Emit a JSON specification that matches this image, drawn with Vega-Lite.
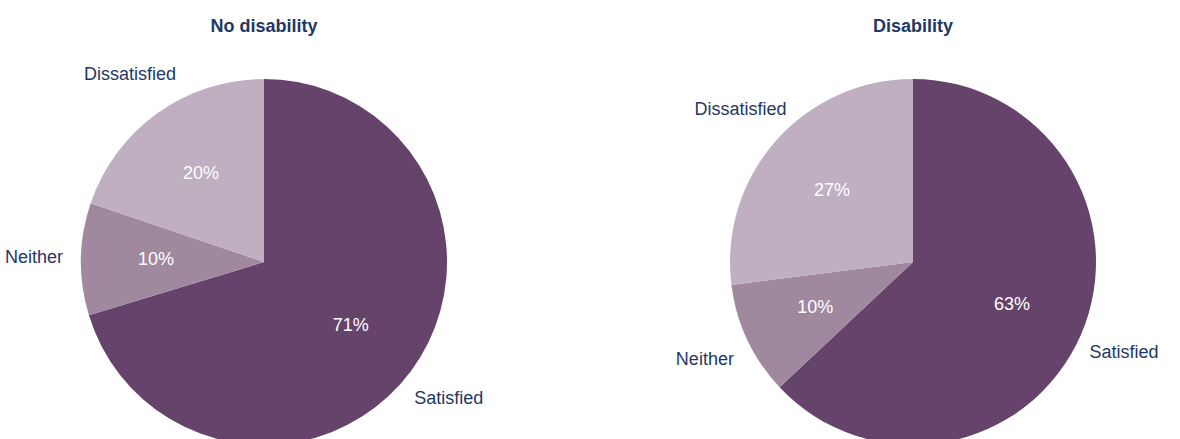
{
  "$schema": "https://vega.github.io/schema/vega-lite/v6.json",
  "padding": {"left": 0, "top": 18, "right": 0, "bottom": 0},
  "background": "white",
  "config": {
    "view": {"stroke": null},
    "font": "Liberation Sans",
    "concat": {"spacing": 121},
    "title": {"fontSize": 18, "fontWeight": "bold", "color": "#1f3864", "offset": 9, "anchor": "middle"}
  },
  "datasets": {
    "survey": [
      {"group": "No disability", "response": "Satisfied", "order": 1, "value": 71},
      {"group": "No disability", "response": "Neither", "order": 2, "value": 10},
      {"group": "No disability", "response": "Dissatisfied", "order": 3, "value": 20},
      {"group": "Disability", "response": "Satisfied", "order": 1, "value": 63},
      {"group": "Disability", "response": "Neither", "order": 2, "value": 10},
      {"group": "Disability", "response": "Dissatisfied", "order": 3, "value": 27}
    ]
  },
  "hconcat": [
    {
      "title": {"text": "No disability"},
      "width": 528,
      "height": 434,
      "data": {"name": "survey"},
      "transform": [
        {"filter": "datum.group === 'No disability'"},
        {"calculate": "datum.value + '%'", "as": "pct"}
      ],
      "encoding": {
        "theta": {"field": "value", "type": "quantitative", "stack": true},
        "order": {"field": "order", "type": "ordinal"},
        "color": {
          "field": "response", "type": "nominal",
          "scale": {"domain": ["Satisfied", "Neither", "Dissatisfied"], "range": ["#66436a", "#a0889f", "#bfafc1"]},
          "legend": null
        }
      },
      "layer": [
        {"mark": {"type": "arc", "outerRadius": 183}},
        {"mark": {"type": "text", "radius": 108, "fontSize": 18}, "encoding": {"text": {"field": "pct"}, "color": {"value": "white"}}},
        {"mark": {"type": "text", "radius": 230, "fontSize": 18}, "encoding": {"text": {"field": "response"}, "color": {"value": "#1f3864"}}}
      ]
    },
    {
      "title": {"text": "Disability"},
      "width": 528,
      "height": 434,
      "data": {"name": "survey"},
      "transform": [
        {"filter": "datum.group === 'Disability'"},
        {"calculate": "datum.value + '%'", "as": "pct"}
      ],
      "encoding": {
        "theta": {"field": "value", "type": "quantitative", "stack": true},
        "order": {"field": "order", "type": "ordinal"},
        "color": {
          "field": "response", "type": "nominal",
          "scale": {"domain": ["Satisfied", "Neither", "Dissatisfied"], "range": ["#66436a", "#a0889f", "#bfafc1"]},
          "legend": null
        }
      },
      "layer": [
        {"mark": {"type": "arc", "outerRadius": 183}},
        {"mark": {"type": "text", "radius": 108, "fontSize": 18}, "encoding": {"text": {"field": "pct"}, "color": {"value": "white"}}},
        {"mark": {"type": "text", "radius": 230, "fontSize": 18}, "encoding": {"text": {"field": "response"}, "color": {"value": "#1f3864"}}}
      ]
    }
  ]
}
